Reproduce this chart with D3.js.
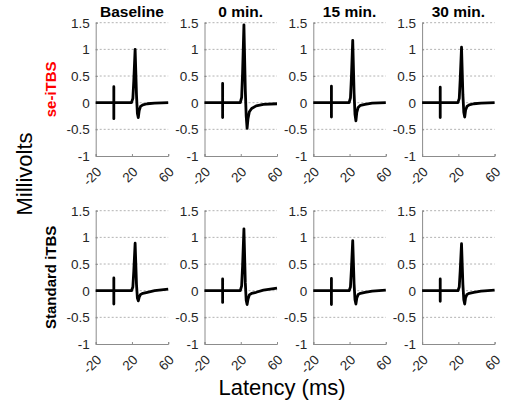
<!DOCTYPE html>
<html>
<head>
<meta charset="utf-8">
<script src="https://cdn.jsdelivr.net/npm/d3@7"></script>
<style>
  body { margin: 0; background: #fff; }
  text { font-family: "Liberation Sans", Arial, sans-serif; }
</style>
</head>
<body>
<div id="chart"></div>
<script>
// ---- data ----
var columns = ["Baseline", "0 min.", "15 min.", "30 min."];
var rows = ["se-iTBS", "Standard iTBS"];
var rowColors = ["#ff0000", "#000000"];
var yTicks = [-1, -0.5, 0, 0.5, 1, 1.5];
var xTicks = [-20, 20, 60];

// latency (ms) sample points shared by all traces
var latency = [-20, 0, 0, 0, 0, 19.5, 21, 22, 23.5, 25, 26, 27, 28, 29.5, 32, 37, 45, 60];

// millivolts, se-iTBS row
var seBaseline = [0, 0, 0.30, -0.30, 0, 0, 0.08, 0.40, 1.00, 0.15, -0.20, -0.28, -0.15, -0.07, -0.04, -0.02, -0.01, 0];
var se0 =        [0, 0, 0.36, -0.28, 0, 0, 0.10, 0.55, 1.46, 0.25, -0.25, -0.48, -0.30, -0.17, -0.11, -0.06, -0.03, -0.02];
var se15 =       [0, 0, 0.31, -0.27, 0, 0, 0.09, 0.45, 1.17, 0.18, -0.22, -0.34, -0.18, -0.09, -0.05, -0.03, -0.01, 0];
var se30 =       [0, 0, 0.29, -0.28, 0, 0, 0.08, 0.42, 1.04, 0.15, -0.18, -0.27, -0.14, -0.07, -0.04, -0.02, -0.01, 0];
// millivolts, standard iTBS row
var stBaseline = [0, 0, 0.24, -0.25, 0, 0, 0.07, 0.36, 0.89, 0.12, -0.14, -0.19, -0.12, -0.07, -0.05, -0.03, 0, 0.03];
var st0 =        [0, 0, 0.22, -0.22, 0, 0, 0.09, 0.45, 1.16, 0.16, -0.18, -0.26, -0.16, -0.08, -0.05, -0.03, 0.01, 0.05];
var st15 =       [0, 0, 0.23, -0.26, 0, 0, 0.07, 0.38, 0.94, 0.13, -0.17, -0.25, -0.14, -0.07, -0.05, -0.03, -0.01, 0.01];
var st30 =       [0, 0, 0.22, -0.20, 0, 0, 0.07, 0.36, 0.88, 0.12, -0.17, -0.25, -0.13, -0.07, -0.05, -0.03, -0.01, 0.01];

var traces = [[seBaseline, se0, se15, se30], [stBaseline, st0, st15, st30]];

// ---- layout ----
var width = 507, height = 406;
var left0 = 95.7, colStep = 108.8, pw = 72.5;
var rowTops = [22.7, 210.7], ph = 133.3;

var svg = d3.select("#chart").append("svg")
    .attr("width", width)
    .attr("height", height);

var x = d3.scaleLinear().domain([-20, 60]).range([0, pw]);
var y = d3.scaleLinear().domain([-1, 1.5]).range([ph, 0]);

var line = d3.line()
    .x(function(d) { return x(d[0]); })
    .y(function(d) { return y(d[1]); });

rows.forEach(function(rowName, r) {
    columns.forEach(function(colName, c) {
        var g = svg.append("g")
            .attr("transform", "translate(" + (left0 + c * colStep) + "," + rowTops[r] + ")");

        // dashed grid
        g.selectAll(".grid")
            .data(yTicks.filter(function(v) { return v > -1; }))
            .enter().append("line")
            .attr("x1", 0).attr("x2", pw)
            .attr("y1", function(d) { return y(d); })
            .attr("y2", function(d) { return y(d); })
            .attr("stroke", "#b3b3b3")
            .attr("stroke-width", 1)
            .attr("stroke-dasharray", "2,2");

        // y axis
        var ya = g.append("g")
            .call(d3.axisLeft(y).tickValues(yTicks).tickSize(-2).tickPadding(6)
                .tickFormat(function(d) { return String(d); }));
        // x axis
        var xa = g.append("g")
            .attr("transform", "translate(0," + ph + ")")
            .call(d3.axisBottom(x).tickValues(xTicks).tickSize(-2)
                .tickFormat(function(d) { return String(d); }));

        [ya, xa].forEach(function(a) {
            a.select(".domain").attr("stroke", "#8c8c8c");
            a.selectAll(".tick line").attr("stroke", "#8c8c8c");
            a.selectAll("text")
                .attr("fill", "#262626")
                .style("font-size", "13.5px")
                .style("font-family", "'Liberation Sans', Arial, sans-serif");
        });

        xa.selectAll("text")
            .attr("y", 0).attr("dy", null)
            .attr("text-anchor", "end")
            .attr("dominant-baseline", "central")
            .attr("transform", "translate(3,13.5) rotate(-45)");

        // trace
        var pts = latency.map(function(t, i) { return [t, traces[r][c][i]]; });
        g.append("path")
            .datum(pts)
            .attr("fill", "none")
            .attr("stroke", "#000")
            .attr("stroke-width", 2.8)
            .attr("stroke-linejoin", "round")
            .attr("d", line);

        // column titles
        if (r === 0) {
            g.append("text")
                .attr("x", pw / 2)
                .attr("y", -6)
                .attr("text-anchor", "middle")
                .style("font-size", "15.5px")
                .style("font-weight", "bold")
                .attr("fill", "#000")
                .text(colName);
        }
    });

    // row label
    svg.append("text")
        .attr("transform", "translate(56," + (rowTops[r] + ph / 2) + ") rotate(-90)")
        .attr("text-anchor", "middle")
        .style("font-size", "15px")
        .style("font-weight", "bold")
        .attr("fill", rowColors[r])
        .text(rowName);
});

svg.append("text")
    .attr("transform", "translate(32,174) rotate(-90)")
    .attr("text-anchor", "middle")
    .style("font-size", "22px")
    .attr("fill", "#000")
    .text("Millivolts");

svg.append("text")
    .attr("x", 282)
    .attr("y", 395)
    .attr("text-anchor", "middle")
    .style("font-size", "22px")
    .attr("fill", "#000")
    .text("Latency (ms)");
</script>
</body>
</html>
